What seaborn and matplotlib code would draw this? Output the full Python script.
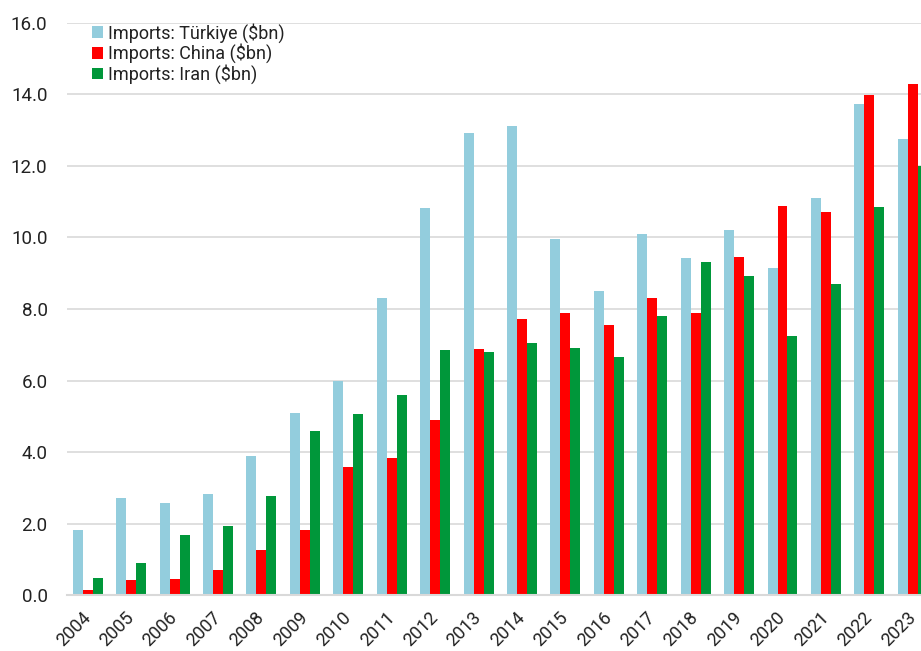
import matplotlib
matplotlib.use("Agg")
import matplotlib.pyplot as plt
import seaborn as sns
import pandas as pd

years = [str(y) for y in range(2004, 2024)]
turkiye = [1.81, 2.72, 2.57, 2.83, 3.89, 5.10, 6.00, 8.30, 10.82, 12.92,
           13.13, 9.96, 8.49, 10.10, 9.42, 10.22, 9.14, 11.10, 13.74, 12.75]
china = [0.15, 0.41, 0.45, 0.71, 1.25, 1.81, 3.58, 3.83, 4.89, 6.87,
         7.71, 7.90, 7.55, 8.31, 7.90, 9.46, 10.89, 10.70, 13.99, 14.28]
iran = [0.48, 0.90, 1.67, 1.93, 2.78, 4.60, 5.05, 5.60, 6.85, 6.80,
        7.04, 6.90, 6.66, 7.81, 9.31, 8.93, 7.25, 8.69, 10.86, 12.01]
series_names = ["Imports: Türkiye ($bn)", "Imports: China ($bn)", "Imports: Iran ($bn)"]
colors = ["#93CDDD", "#FF0000", "#00973A"]
yticks = [0, 2, 4, 6, 8, 10, 12, 14, 16]

rows = []
for name, vals in zip(series_names, [turkiye, china, iran]):
    for yr, v in zip(years, vals):
        rows.append({"year": yr, "value": v, "series": name})
df = pd.DataFrame(rows)

sns.set_theme(style="white")
plt.rcParams["font.family"] = ["Roboto", "DejaVu Sans"]

fig = plt.figure(figsize=(9.21, 6.51), dpi=100)
ax = fig.add_axes([0.0727, 0.086, 0.9273, 0.8787])

sns.barplot(data=df, x="year", y="value", hue="series", order=years,
            hue_order=series_names, palette=colors, saturation=1,
            width=0.69, gap=0, linewidth=0, errorbar=None, ax=ax)

ax.set_ylim(0, 16)
ax.set_xlim(-0.48, 19.19)
ax.set_yticks(yticks)
ax.set_yticklabels([f"{v:.1f}" for v in yticks])
ax.set_xlabel("")
ax.set_ylabel("")
ax.grid(axis="y", color="#D9D9D9", linewidth=1.2)
ax.grid(axis="x", visible=False)
ax.set_axisbelow(True)
for s in ["top", "right", "left"]:
    ax.spines[s].set_visible(False)
ax.spines["bottom"].set_color("#D9D9D9")
ax.spines["bottom"].set_linewidth(1.5)
ax.tick_params(axis="y", length=0, pad=14, labelsize=13.5, labelcolor="#222222")
ax.tick_params(axis="x", length=0, pad=14, labelsize=13, labelcolor="#222222")
for lbl in ax.get_xticklabels():
    lbl.set_rotation(45)
    lbl.set_ha("right")
    lbl.set_va("center")
    lbl.set_rotation_mode("anchor")

leg = ax.legend(loc="upper left", bbox_to_anchor=(0.029, 1.0), frameon=False,
                fontsize=13, borderpad=0, borderaxespad=0, labelspacing=0.05,
                handlelength=0.6, handleheight=0.6, handletextpad=0.3)
for t in leg.get_texts():
    t.set_color("#222222")

fig.savefig("out.png", dpi=100)
